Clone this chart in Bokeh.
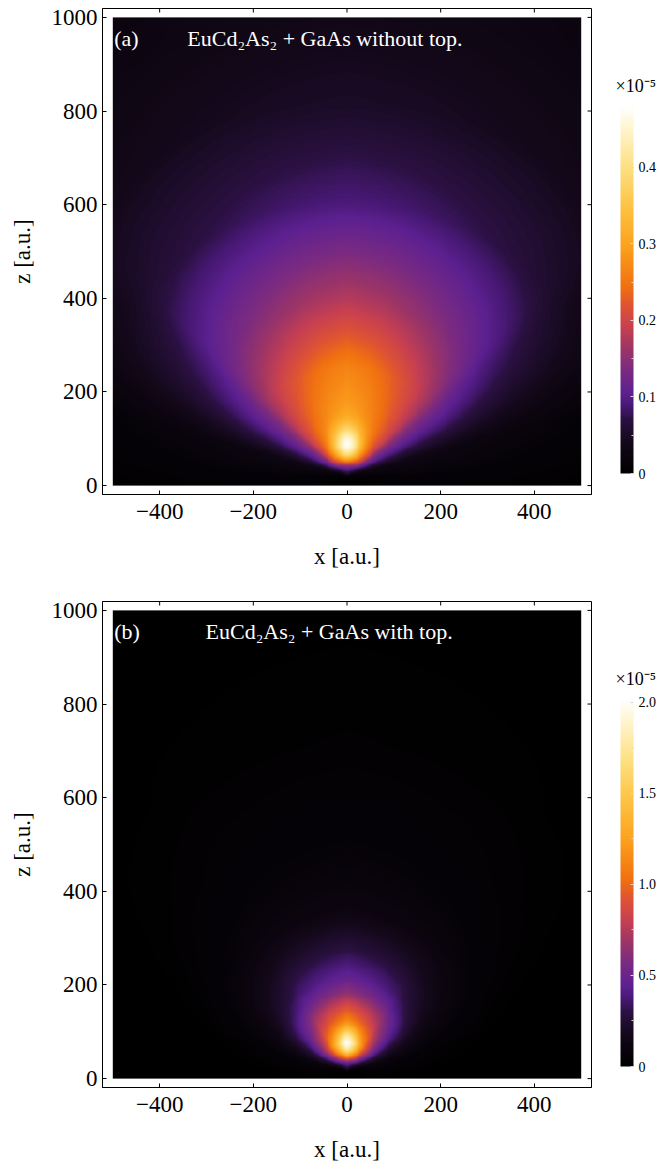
import numpy as np
from bokeh.plotting import figure
from bokeh.models import Range1d, FixedTicker, LinearColorMapper, PrintfTickFormatter, ColorBar
from bokeh.layouts import column, row
from bokeh.core.properties import value
from bokeh.embed import file_html
from bokeh.resources import INLINE

# ---------------- data ----------------
x_ticks = [-400, -200, 0, 200, 400]
z_ticks = [0, 200, 400, 600, 800, 1000]
x_extent = [-500, 500]
z_extent = [0, 1000]

# panel (a): values in units of 1e-5
a_tag = "(a)"
a_title = "EuCd₂As₂ + GaAs without top."
a_source_z = 20
# broad part: profile straight above the source and its angular fall-off
a_axis_r = [0, 10, 21, 33, 45, 65, 105, 161, 232, 304, 375, 480, 588, 800, 1000, 1200]
a_axis_val = [0.03, 0.06, 0.11, 0.2, 0.26, 0.3, 0.31, 0.29, 0.265, 0.22, 0.18, 0.135, 0.09, 0.05, 0.035, 0.028]
a_ang_deg = [0, 12, 22, 32, 40, 47, 52, 60, 68, 75, 90, 120, 180]
a_ang_fac = [1.0, 0.95, 0.88, 0.8, 0.72, 0.62, 0.5, 0.36, 0.22, 0.11, 0.04, 0.01, 0.0]
# bright spot
a_peak_z = 85
a_peak_amp = 0.175
a_peak_wx = 22
a_peak_wz = 27
a_vmax = 0.481
a_cb_ticks = [0, 0.1, 0.2, 0.3, 0.4]

# panel (b)
b_tag = "(b)"
b_title = "EuCd₂As₂ + GaAs with top."
b_source_z = 15
b_axis_r = [0, 10, 17, 31, 45, 60, 81, 109, 137, 166, 195, 230, 265, 302, 337, 408, 510, 700, 1000, 1200]
b_axis_val = [0.12, 0.3, 0.45, 1.0, 1.35, 1.5, 1.35, 1.1, 0.9, 0.65, 0.49, 0.38, 0.28, 0.2, 0.13, 0.08, 0.05, 0.025, 0.012, 0.01]
b_ang_deg = [0, 19, 32, 38, 46, 55, 62, 66, 75, 90, 135, 180]
b_ang_fac = [1.0, 0.85, 0.72, 0.61, 0.49, 0.34, 0.22, 0.17, 0.07, 0.02, 0.005, 0.0]
b_peak_z = 75
b_peak_amp = 0.52
b_peak_wx = 16
b_peak_wz = 20
b_vmax = 2.02
b_cb_ticks = [0, 0.5, 1.0, 1.5, 2.0]

cb_label = "×10⁻⁵"
x_label = "x [a.u.]"
z_label = "z [a.u.]"

# ---------------- style ----------------
FONT = "Liberation Serif"
X_RANGE = (-522, 522)
Z_RANGE = (-19, 1019)
stops_t = [0, 0.08, 0.145, 0.18, 0.217, 0.28, 0.335, 0.398, 0.46, 0.507, 0.58, 0.626, 0.715, 0.832, 0.94, 1.0]
stops_c = ["#000000", "#120818", "#2a1040", "#461872", "#5c2090", "#7a2a82", "#9a3468", "#c84050",
           "#e05530", "#f07010", "#f89018", "#fba520", "#fdc040", "#fde080", "#fff5d0", "#ffffff"]


def make_palette(n=256):
    rgb = np.array([[int(c[i:i + 2], 16) for i in (1, 3, 5)] for c in stops_c], dtype=float)
    out = []
    for tt in np.linspace(0, 1, n):
        r, g, b = (np.interp(tt, stops_t, rgb[:, k]) for k in range(3))
        out.append("#%02x%02x%02x" % (int(round(r)), int(round(g)), int(round(b))))
    return out


PALETTE = make_palette()


def build_field(src_z, ar, av, ad, af, pz, pa, pwx, pwz, n=500):
    xs = np.linspace(x_extent[0], x_extent[1], n)
    zs = np.linspace(z_extent[0], z_extent[1], n)
    X, Z = np.meshgrid(xs, zs)
    dz = Z - src_z
    r = np.hypot(X, dz)
    th = np.degrees(np.arctan2(np.abs(X), dz))
    broad = np.interp(r, ar, av) * np.interp(th, ad, af)
    spot = pa * np.exp(-0.5 * ((X / pwx) ** 2 + ((Z - pz) / pwz) ** 2))
    return broad + spot


def style_axis(ax, ticks):
    ax.ticker = FixedTicker(ticks=ticks)
    ax.major_tick_in = 4
    ax.major_tick_out = 0
    ax.minor_tick_in = 0
    ax.minor_tick_out = 0
    ax.axis_line_color = "black"
    ax.major_tick_line_color = "black"
    ax.major_label_text_font = FONT
    ax.major_label_text_font_size = "23px"
    ax.major_label_text_color = "black"
    ax.axis_label_text_font = FONT
    ax.axis_label_text_font_size = "23px"
    ax.axis_label_text_font_style = "normal"
    ax.axis_label_text_color = "black"
    ax.major_label_overrides = {t: ("−%d" % -t if t < 0 else "%d" % t) for t in ticks}


def make_panel(img, vmax, tag, title, title_x, height, bottom_border):
    p = figure(width=600, height=height, x_range=Range1d(*X_RANGE), y_range=Range1d(*Z_RANGE),
               output_backend="svg", toolbar_location=None,
               min_border_left=102, min_border_right=9, min_border_top=8, min_border_bottom=bottom_border)
    p.grid.visible = False
    p.outline_line_color = "black"
    p.outline_line_width = 1
    mapper = LinearColorMapper(palette=PALETTE, low=0, high=vmax)
    p.image(image=[img], x=x_extent[0], y=z_extent[0], dw=x_extent[1] - x_extent[0],
            dh=z_extent[1] - z_extent[0], color_mapper=mapper)
    style_axis(p.xaxis[0], x_ticks)
    style_axis(p.yaxis[0], z_ticks)
    p.xaxis[0].axis_label = x_label
    p.yaxis[0].axis_label = z_label
    p.xaxis[0].major_label_standoff = 9
    p.xaxis[0].axis_label_standoff = 22
    p.yaxis[0].major_label_standoff = 5
    p.yaxis[0].axis_label_standoff = 14
    # mirrored inward ticks on the top and right frame edges
    ppu_x = 489.0 / (X_RANGE[1] - X_RANGE[0])
    ppu_z = 486.0 / (Z_RANGE[1] - Z_RANGE[0])
    tl_z = 4 / ppu_z
    tl_x = 4 / ppu_x
    p.segment(x0=x_ticks, y0=[Z_RANGE[1]] * len(x_ticks), x1=x_ticks, y1=[Z_RANGE[1] - tl_z] * len(x_ticks),
              line_color="black", line_width=1)
    p.segment(x0=[X_RANGE[1]] * len(z_ticks), y0=z_ticks, x1=[X_RANGE[1] - tl_x] * len(z_ticks), y1=z_ticks,
              line_color="black", line_width=1)
    p.text(x=[-497], y=[955], text=[tag], text_color="white", text_font=value(FONT),
           text_font_size="22px", text_baseline="middle", text_align="left")
    p.text(x=[title_x], y=[955], text=[title], text_color="white", text_font=value(FONT),
           text_font_size="22px", text_baseline="middle", text_align="left")
    return p, mapper


def make_cb(mapper, ticks, height, bottom_border):
    frame_top, frame_bot = 8, height - bottom_border      # same vertical frame as the main panel
    frame_h = frame_bot - frame_top
    bar_top, bar_bot = 105, 473                            # bar position inside the figure
    c = figure(width=60, height=height, x_range=Range1d(0, 60), y_range=Range1d(0, frame_h),
               output_backend="svg", toolbar_location=None, x_axis_location=None,
               y_axis_location=None,
               min_border_left=0, min_border_right=0, min_border_top=frame_top, min_border_bottom=bottom_border)
    c.grid.visible = False
    c.outline_line_color = None
    mids = [(ticks[i] + ticks[i + 1]) / 2 for i in range(len(ticks) - 1)]
    bar = ColorBar(color_mapper=mapper, location=(20, frame_bot - bar_bot), width=13, height=bar_bot - bar_top,
                   padding=0, margin=0,
                   ticker=FixedTicker(ticks=ticks, minor_ticks=mids),
                   formatter=PrintfTickFormatter(format="%.1f"), major_label_overrides={0: "0"},
                   major_label_text_font=FONT, major_label_text_font_size="14px",
                   major_label_text_color="black", label_standoff=5,
                   major_tick_in=3, major_tick_out=0, major_tick_line_color="#d8d8d8",
                   minor_tick_in=2, minor_tick_out=0, minor_tick_line_color="#d8d8d8",
                   background_fill_alpha=0, bar_line_color=None, border_line_color=None)
    c.add_layout(bar, "center")
    c.text(x=[15], y=[frame_bot - 85], text=[cb_label], text_font=value(FONT), text_font_size="18px",
           text_color="black", text_baseline="middle", text_align="left")
    return c


img_a = build_field(a_source_z, a_axis_r, a_axis_val, a_ang_deg, a_ang_fac,
                    a_peak_z, a_peak_amp, a_peak_wx, a_peak_wz)
img_b = build_field(b_source_z, b_axis_r, b_axis_val, b_ang_deg, b_ang_fac,
                    b_peak_z, b_peak_amp, b_peak_wx, b_peak_wz)

pa, ma = make_panel(img_a, a_vmax, a_tag, a_title, -341, 593, 99)
pb, mb = make_panel(img_b, b_vmax, b_tag, b_title, -302, 576, 82)
ca = make_cb(ma, a_cb_ticks, 593, 99)
cb = make_cb(mb, b_cb_ticks, 576, 82)

layout = column(row(pa, ca, spacing=0), row(pb, cb, spacing=0), spacing=0)
open("out.html", "w").write(file_html(layout, INLINE))
